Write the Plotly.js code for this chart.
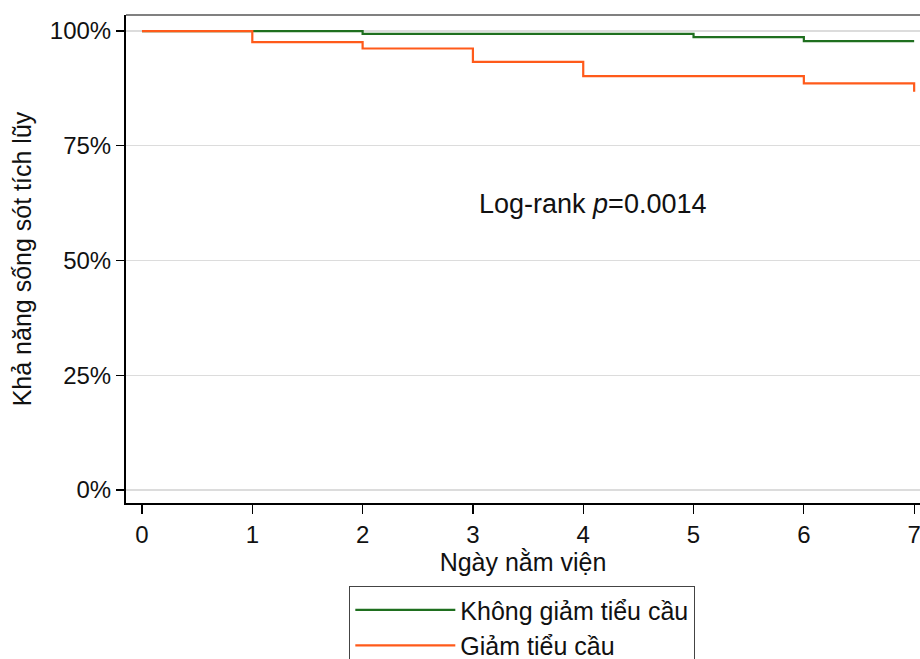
<!DOCTYPE html>
<html>
<head>
<meta charset="utf-8">
<script src="https://cdn.plot.ly/plotly-3.0.1.min.js"></script>
<style>html,body{margin:0;padding:0;background:#fff;}#chart{width:920px;height:659px;}</style>
</head>
<body>
<div id="chart"></div>
<script>
// Kaplan-Meier step data (days, cumulative survival %)
const seriesNames = ["Không giảm tiểu cầu", "Giảm tiểu cầu"];
const timeNoLow = [0, 2, 5, 6, 7];
const survNoLow = [100, 99.4, 98.7, 97.8, 97.8];
const timeLow = [0, 1, 2, 3, 4, 6, 7, 7];
const survLow = [100, 97.6, 96.2, 93.3, 90.2, 88.6, 88.6, 86.8];
const xTicks = [0, 1, 2, 3, 4, 5, 6, 7];
const yTicks = [0, 25, 50, 75, 100];
const yTickText = ["0%", "25%", "50%", "75%", "100%"];

const FONT = "Liberation Sans, Arial, sans-serif";

const traces = [
  {x: timeNoLow, y: survNoLow, name: seriesNames[0], mode: "lines",
   line: {shape: "hv", color: "#1f6f1f", width: 2.2}},
  {x: timeLow, y: survLow, name: seriesNames[1], mode: "lines",
   line: {shape: "hv", color: "#ff5a1a", width: 2.2}}
];

const layout = {
  width: 920, height: 659,
  margin: {l: 126, r: 0, t: 15, b: 156, autoexpand: false},
  paper_bgcolor: "#fff", plot_bgcolor: "#fff",
  font: {family: FONT, color: "#111", size: 24},
  showlegend: true,
  xaxis: {
    range: [-0.145, 7.053], tickvals: xTicks, ticktext: xTicks.map(String),
    showgrid: false, zeroline: false, automargin: false,
    showline: true, linecolor: "#000", linewidth: 2,
    ticks: "outside", ticklen: 9, tickwidth: 1.3, tickcolor: "#000",
    ticklabeloverflow: "allow",
    tickfont: {size: 24, family: FONT},
    title: {text: "Ngày nằm viện", font: {size: 25, family: FONT}, standoff: 0}
  },
  yaxis: {
    range: [-2.83, 103.5], tickvals: yTicks, ticktext: yTickText,
    showgrid: true, gridcolor: "#dcdcdc", gridwidth: 1.3, zeroline: false, automargin: false,
    showline: true, linecolor: "#000", linewidth: 2,
    ticks: "outside", ticklen: 8, tickwidth: 1.3, tickcolor: "#000",
    tickfont: {size: 24, family: FONT},
    title: {text: "Khả năng sống sót tích lũy", font: {size: 25, family: FONT}, standoff: 11}
  },
  shapes: [
    {type: "line", xref: "paper", yref: "paper", x0: 0, x1: 1, y0: 1, y1: 1,
     line: {color: "#808080", width: 2}}
  ],
  annotations: [
    {x: 4.08, y: 62.3, xref: "x", yref: "y", showarrow: false,
     text: "Log-rank <i>p</i>=0.0014", font: {size: 27, family: FONT, color: "#111"}}
  ],
  legend: {
    x: 0.281, y: -0.17, xanchor: "left", yanchor: "top",
    bordercolor: "#444", borderwidth: 1.2, bgcolor: "#fff",
    font: {size: 25, family: FONT}, itemwidth: 100, tracegroupgap: 0
  }
};

Plotly.newPlot("chart", traces, layout, {displayModeBar: false, staticPlot: true});
</script>
</body>
</html>
